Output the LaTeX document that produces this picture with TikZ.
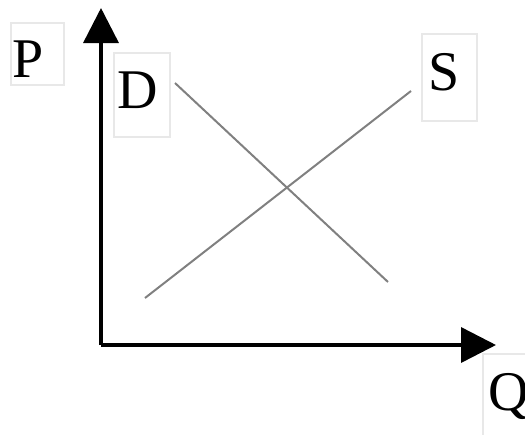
\documentclass[tikz,border=0pt]{standalone}
\usepackage{fontspec}
\setmainfont{Liberation Serif}
\usetikzlibrary{arrows.meta}

\begin{document}
\begin{tikzpicture}[x=1pt,y=-1pt,
    axis/.style={line width=3.5pt,-{Triangle[length=35pt,width=35pt]}},
    curve/.style={line width=2pt,color=black!50},
    frame/.style={line width=2pt,color=black!9},
    lbl/.style={anchor=base west,inner sep=0pt,font=\fontsize{56}{56}\selectfont}]
            \useasboundingbox (0,0) rectangle (525,434);
            % label frames
            \draw[frame] (10.5,22.5) rectangle (64,85);
            \draw[frame] (114,53) rectangle (170,137);
            \draw[frame] (422,34) rectangle (477,121);
            \draw[frame] (483,354) rectangle (540,450);
            % axes
            \coordinate (O) at (101,345);
            \coordinate (Ptip) at (101,8);
            \coordinate (Qtip) at (496,345);
            \draw[axis] (O) -- (Ptip);
            \draw[axis] (O) -- (Qtip);
            \node[lbl] (P) at (12,77) {P};
            \node[lbl] (Q) at (488,410) {Q};
            % demand and supply
            \coordinate (D1) at (175,83);
            \coordinate (D2) at (388,282);
            \coordinate (S1) at (145,298);
            \coordinate (S2) at (411,91);
            \draw[curve] (D1) -- (D2);
            \draw[curve] (S1) -- (S2);
            \node[lbl] (D) at (117,108) {D};
            \node[lbl] (S) at (428,90) {S};
        \end{tikzpicture}
\end{document}
